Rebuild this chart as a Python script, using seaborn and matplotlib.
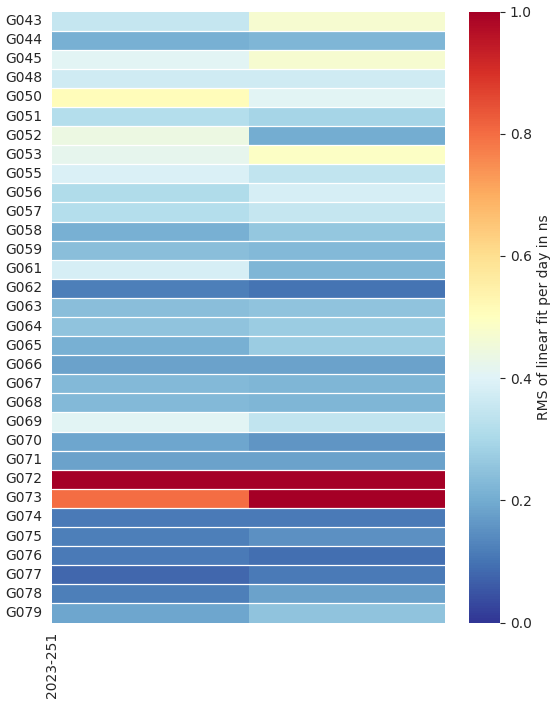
import numpy as np
import pandas as pd
import matplotlib
matplotlib.use("Agg")
import matplotlib.pyplot as plt
import seaborn as sns

# satellites and days
sats = ["G043", "G044", "G045", "G048", "G050", "G051", "G052", "G053",
        "G055", "G056", "G057", "G058", "G059", "G061", "G062", "G063",
        "G064", "G065", "G066", "G067", "G068", "G069", "G070", "G071",
        "G072", "G073", "G074", "G075", "G076", "G077", "G078", "G079"]
days = ["2023-251", "2023-252"]

# RMS per day (ns)
rms_day1 = [0.35, 0.21, 0.41, 0.37, 0.51, 0.32, 0.44, 0.42,
            0.39, 0.31, 0.32, 0.21, 0.24, 0.38, 0.12, 0.24,
            0.25, 0.21, 0.18, 0.23, 0.23, 0.41, 0.19, 0.18,
            1.05, 0.80, 0.11, 0.12, 0.11, 0.08, 0.12, 0.19]
rms_day2 = [0.47, 0.22, 0.47, 0.37, 0.41, 0.29, 0.20, 0.49,
            0.34, 0.38, 0.35, 0.26, 0.23, 0.22, 0.10, 0.25,
            0.27, 0.27, 0.18, 0.22, 0.22, 0.34, 0.16, 0.18,
            1.10, 1.02, 0.11, 0.15, 0.09, 0.11, 0.18, 0.25]

df = pd.DataFrame({days[0]: rms_day1, days[1]: rms_day2}, index=sats)

sns.set_style("white")
plt.rcParams['font.family'] = ['DejaVu Sans']

fig = plt.figure(figsize=(5.55, 7.03), dpi=100)
ax = fig.add_axes([52 / 555, 1 - 622.5 / 703, 393 / 555, 611 / 703])
cax = fig.add_axes([469 / 555, 1 - 622.5 / 703, 31 / 555, 611 / 703])

sns.heatmap(df, ax=ax, cbar_ax=cax, cmap="RdYlBu_r", vmin=0, vmax=1,
            cbar_kws={"label": "RMS of linear fit per day in ns"})

# white separators between the satellites only
for i in range(1, len(sats)):
    ax.axhline(i, color="white", lw=0.9)

# only every second day gets a label, at the left edge of the cell
ax.set_xticks(np.arange(0, len(days), 2))
ax.set_xticklabels(days[::2], rotation=90)
ax.set_yticklabels(sats, rotation=0)
cax.set_yticks([0, 0.2, 0.4, 0.6, 0.8, 1.0])

fig.savefig("out.png", dpi=100)
